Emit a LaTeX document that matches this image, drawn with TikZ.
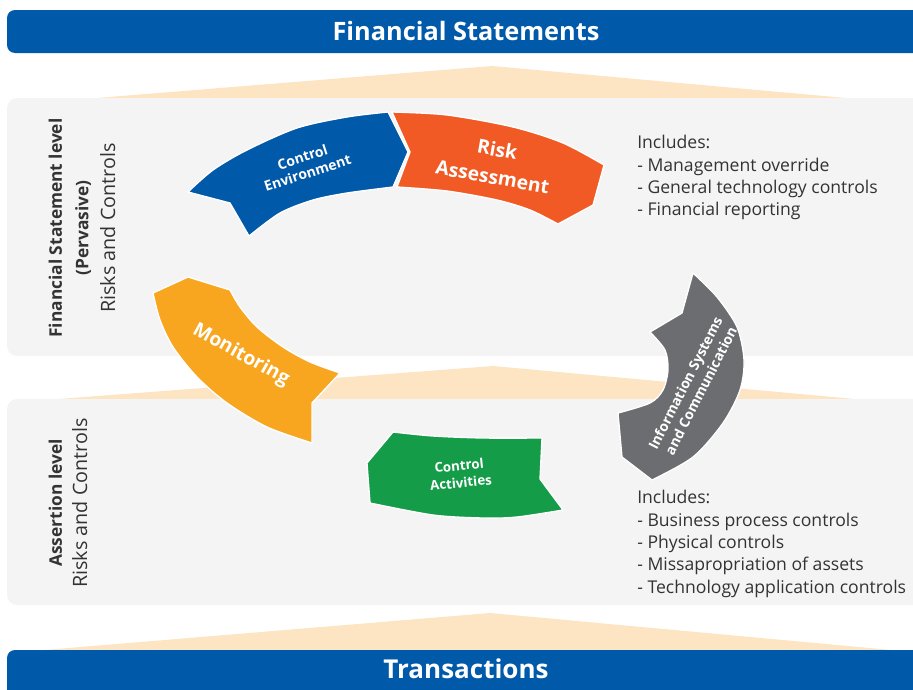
\documentclass[tikz,border=0pt]{standalone}
\usepackage{fontspec}
\setmainfont{Open Sans}
\usepackage{tikz}
\definecolor{fsblue}{RGB}{0,89,169}
\definecolor{raorange}{RGB}{241,90,36}
\definecolor{mongold}{RGB}{248,166,32}
\definecolor{isgray}{RGB}{108,109,112}
\definecolor{cagreen}{RGB}{21,156,73}
\definecolor{peach}{RGB}{253,229,196}
\definecolor{panelgray}{RGB}{244,244,244}
\definecolor{textgray}{RGB}{51,51,51}

\begin{document}
\begin{tikzpicture}[x=0.75pt, y=-0.75pt]
\tikzset{
	bar/.style = {fill=fsblue, rounded corners=6pt},
	panel/.style = {fill=panelgray, rounded corners=7.5pt},
	wedge/.style = {fill=peach},
	seg/.style = {draw=white, line width=1pt},
	segtext/.style = {text=white, font=\bfseries, align=center, inner sep=0pt},
	bartext/.style = {text=white, inner sep=0pt},
	level/.style = {rotate=90, align=center, text=textgray, inner sep=0pt},
	includes/.style = {anchor=north west, align=left, text=textgray, inner sep=0pt,
		font=\fontsize{13.2}{16.8}\selectfont}
}
\useasboundingbox (0,0) rectangle (913,689);
\clip (0,0) rectangle (913,689);

\fill[wedge] (492,66) -- (868,100) -- (72,100) -- cycle;
\fill[wedge] (493,366) -- (866,400) -- (45,400) -- cycle;
\fill[wedge] (490,613) -- (913,652) -- (20,652) -- cycle;

\fill[bar] (7,10) rectangle (930,53);
\fill[bar] (7,650) rectangle (930,710);
\fill[panel] (7,98) rectangle (930,356);
\fill[panel] (7,399) rectangle (930,605);

% control environment
\filldraw[seg, fill=fsblue] (188,192) -- (230,203) -- (249,236)
	-- plot[smooth] coordinates {(249,236) (280,213) (313,200) (347,193) (393,187)}
	-- (408,152) -- (388,112)
	-- plot[smooth] coordinates {(388,112) (347,117) (297,128) (247,150) (213,170) (188,192)}
	-- cycle;
% risk assessment
\filldraw[seg, fill=raorange] (392,112) -- (410,152) -- (397,187)
	-- plot[smooth] coordinates {(397,187) (447,191) (497,200) (530,210) (558,224)}
	-- (593,205) -- (604,165)
	-- plot[smooth] coordinates {(604,165) (563,143) (513,127) (447,115) (392,112)}
	-- cycle;
% information systems
\filldraw[seg, fill=isgray] (693,273) -- (682,313) -- (650,332)
	-- plot[smooth] coordinates {(650,332) (665,350) (668,370) (663,390) (650,403) (618,413)}
	-- (622,457) -- (652,480)
	-- plot[smooth] coordinates {(652,480) (693,457) (723,423) (740,390) (744,360) (737,327) (717,297) (693,273)}
	-- cycle;
% control activities
\filldraw[seg, fill=cagreen] (563,510) -- (540,479) -- (542,438)
	-- plot[smooth] coordinates {(542,438) (483,438) (433,436) (393,432)}
	-- (367,463) -- (370,503)
	-- plot[smooth] coordinates {(370,503) (433,515) (483,518) (517,517) (563,510)}
	-- cycle;
% monitoring
\filldraw[seg, fill=mongold] (312,443) -- (312,403) -- (340,373)
	-- plot[smooth] coordinates {(340,373) (310,362) (283,347) (257,327) (240,307) (230,290)}
	-- (188,277) -- (153,293)
	-- plot[smooth] coordinates {(153,293) (160,320) (173,347) (197,377) (227,403) (267,427) (312,443)}
	-- cycle;

\node[segtext, rotate=18, font=\bfseries\fontsize{10.5}{12.5}\selectfont] (ce) at (305,165) {Control\\Environment};
\node[segtext, rotate=-10, font=\bfseries\fontsize{14.5}{21}\selectfont] (ra) at (495,163) {Risk\\Assessment};
\node[segtext, rotate=63, font=\bfseries\fontsize{10.5}{13}\selectfont] (isc) at (693,387) {Information Systems\\and Communication};
\node[segtext, rotate=6, font=\bfseries\fontsize{10}{13}\selectfont] (ca) at (460,474) {Control\\Activities};
\node[segtext, rotate=-29, font=\bfseries\fontsize{14.5}{17}\selectfont] (mon) at (241,355) {Monitoring};

\node[bartext, font=\bfseries\fontsize{19}{22}\selectfont] (fs) at (466,31) {Financial Statements};
\node[bartext, font=\bfseries\fontsize{19.5}{22}\selectfont] (tr) at (466,669) {Transactions};

\node[level, font=\fontsize{13}{19.9}\selectfont] (fsl) at (82,228)
	{\textbf{Financial Statement level}\\\textbf{(Pervasive)}\\{\fontsize{14.8}{19.9}\selectfont Risks and Controls}};
\node[level, font=\fontsize{13}{18.8}\selectfont] (asl) at (68,503)
	{\textbf{Assertion level}\\{\fontsize{14.8}{18.8}\selectfont Risks and Controls}};

\node[includes] (inc1) at (637,135)
	{Includes:\\- Management override\\- General technology controls\\- Financial reporting};
\node[includes] (inc2) at (637,490)
	{Includes:\\- Business process controls\\- Physical controls\\- Missapropriation of assets\\- Technology application controls};
\end{tikzpicture}
\end{document}
